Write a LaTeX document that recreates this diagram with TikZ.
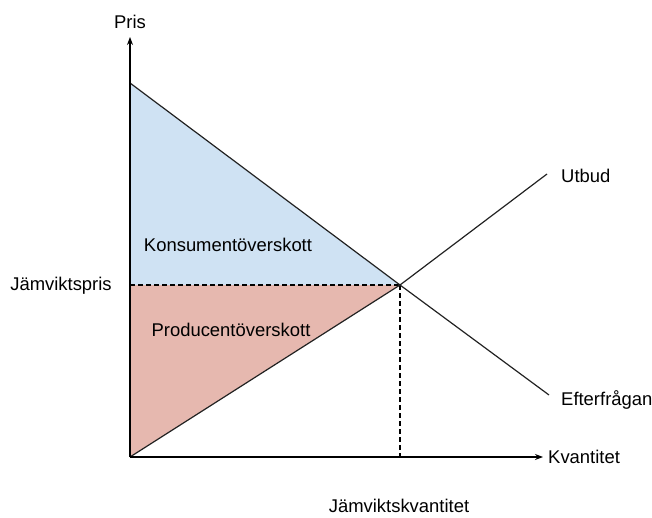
\documentclass[tikz,border=0pt]{standalone}
\usepackage{fontspec}
\setmainfont{Liberation Sans}
\usetikzlibrary{arrows.meta}
\definecolor{cblue}{HTML}{CFE2F3}
\definecolor{cred}{HTML}{E6B8AF}
\definecolor{cline}{HTML}{222222}
\begin{document}
\begin{tikzpicture}[x=1bp,y=-1bp,
  lbl/.style={font=\fontsize{18.5}{21}\selectfont, inner sep=0pt, text=black},
  curve/.style={draw=cline, line width=1.2bp},
  axis/.style={draw=black, line width=1.2bp, -{Stealth[length=8bp,width=6bp]}},
  guide/.style={draw=black, line width=1.2bp, dash pattern=on 5bp off 3bp}]
\useasboundingbox (0,0) rectangle (652,518);
\coordinate (O) at (130,457);
\coordinate (Ytop) at (130,37);
\coordinate (Xend) at (543,457);
\coordinate (D0) at (130,83);
\coordinate (E) at (400,285);
\coordinate (P) at (130,285);
\coordinate (Q) at (400,457);
\coordinate (S1) at (547,174);
\coordinate (D1) at (549,395);
% areas
\fill[cblue] (D0) -- (E) -- (P) -- cycle;
\fill[cred] (P) -- (E) -- (O) -- cycle;
% guides
\draw[guide] (P) -- (E);
\draw[guide] (E) -- (Q);
% curves
\draw[curve] (O) -- (E) -- (S1);
\draw[curve] (D0) -- (E) -- (D1);
% axes
\draw[axis] (O) -- (Ytop);
\draw[axis] (O) -- (Xend);
% labels
\node[lbl] (pris) at (130,22) {Pris};
\node[lbl, anchor=west] (kv) at (548,457) {Kvantitet};
\node[lbl, anchor=west] (utbud) at (561,176) {Utbud};
\node[lbl, anchor=west] (eft) at (561,400) {Efterfrågan};
\node[lbl] (jp) at (61,286) {Jämviktspris};
\node[lbl] (jk) at (399,506) {Jämviktskvantitet};
\node[lbl] (ko) at (228,245) {Konsumentöverskott};
\node[lbl] (po) at (231,330) {Producentöverskott};
\end{tikzpicture}
\end{document}
